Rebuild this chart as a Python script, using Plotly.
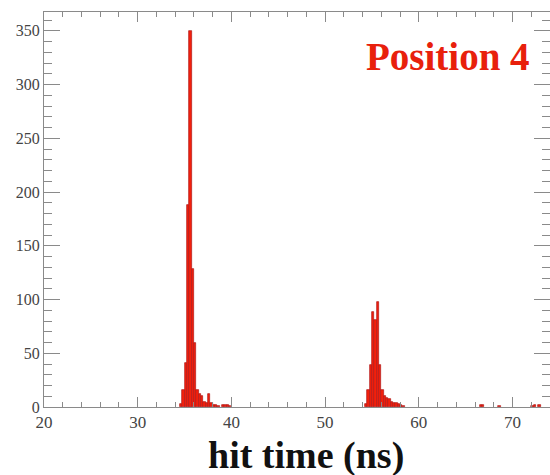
import plotly.graph_objects as go

# Histogram data: left bin edges (ns) and counts, bin width 0.25 ns
bin_width = 0.25
bin_left = [34.5, 34.75, 35.0, 35.25, 35.5, 35.75, 36.0, 36.25, 36.5, 36.75,
            37.0, 37.25, 37.5, 37.75, 38.0, 38.25, 38.5, 39.0, 39.25, 39.5, 39.75,
            54.25, 54.5, 54.75, 55.0, 55.25, 55.5, 55.75, 56.0, 56.25, 56.5,
            56.75, 57.0, 57.25, 57.5, 57.75, 58.0, 58.25,
            66.5, 66.75, 68.5, 72.0, 72.25, 72.75]
counts = [3, 16, 41, 188, 350, 128, 60, 16, 12, 10,
          5, 4, 12, 4, 2, 2, 1, 2, 2, 2, 1,
          3, 16, 39, 88, 81, 98, 39, 16, 10, 8,
          7, 5, 4, 4, 3, 2, 1,
          2, 2, 1, 1, 2, 2]

x_ticks = [20, 30, 40, 50, 60, 70]
y_ticks = [0, 50, 100, 150, 200, 250, 300, 350]

serif = "Liberation Serif"
axis_gray = "#8a8a8a"

fig = go.Figure()
fig.add_trace(go.Bar(
    x=bin_left, y=counts, width=bin_width, offset=0,
    marker=dict(color="#f2200c", line=dict(color="#b01818", width=0.7)),
    showlegend=False,
))

fig.update_layout(
    width=550, height=475,
    margin=dict(l=44, r=0, t=12, b=68),
    paper_bgcolor="white", plot_bgcolor="white",
    font=dict(family=serif),
    bargap=0,
    xaxis=dict(
        range=[20, 74], tickvals=x_ticks, ticktext=[str(v) for v in x_ticks],
        ticks="inside", ticklen=10, tickwidth=1, tickcolor=axis_gray,
        minor=dict(dtick=2, tick0=20, ticks="inside", ticklen=5, tickcolor=axis_gray, showgrid=False),
        showline=True, linecolor=axis_gray, linewidth=1, mirror="allticks",
        showgrid=False, zeroline=False,
        tickfont=dict(family=serif, size=17, color="#444444"),
    ),
    yaxis=dict(
        range=[0, 367.5], tickvals=y_ticks, ticktext=[str(v) for v in y_ticks],
        ticks="inside", ticklen=16, tickwidth=1, tickcolor=axis_gray,
        minor=dict(dtick=10, tick0=0, ticks="inside", ticklen=8, tickcolor=axis_gray, showgrid=False),
        showline=True, linecolor=axis_gray, linewidth=1, mirror="allticks",
        showgrid=False, zeroline=False,
        tickfont=dict(family=serif, size=16, color="#444444"),
    ),
    annotations=[
        dict(text="<b>Position 4</b>", xref="paper", yref="paper",
             x=(364 - 44) / 506, y=(407 - 56) / 395, xanchor="left", yanchor="middle",
             showarrow=False, font=dict(family=serif, size=39, color="#e8200c")),
        dict(text="<b>hit time (ns)</b>", xref="paper", yref="paper",
             x=(306 - 44) / 506, y=(407 - 455) / 395, xanchor="center", yanchor="middle",
             showarrow=False, font=dict(family=serif, size=38, color="#111111")),
    ],
)

fig.write_html("out.html")
